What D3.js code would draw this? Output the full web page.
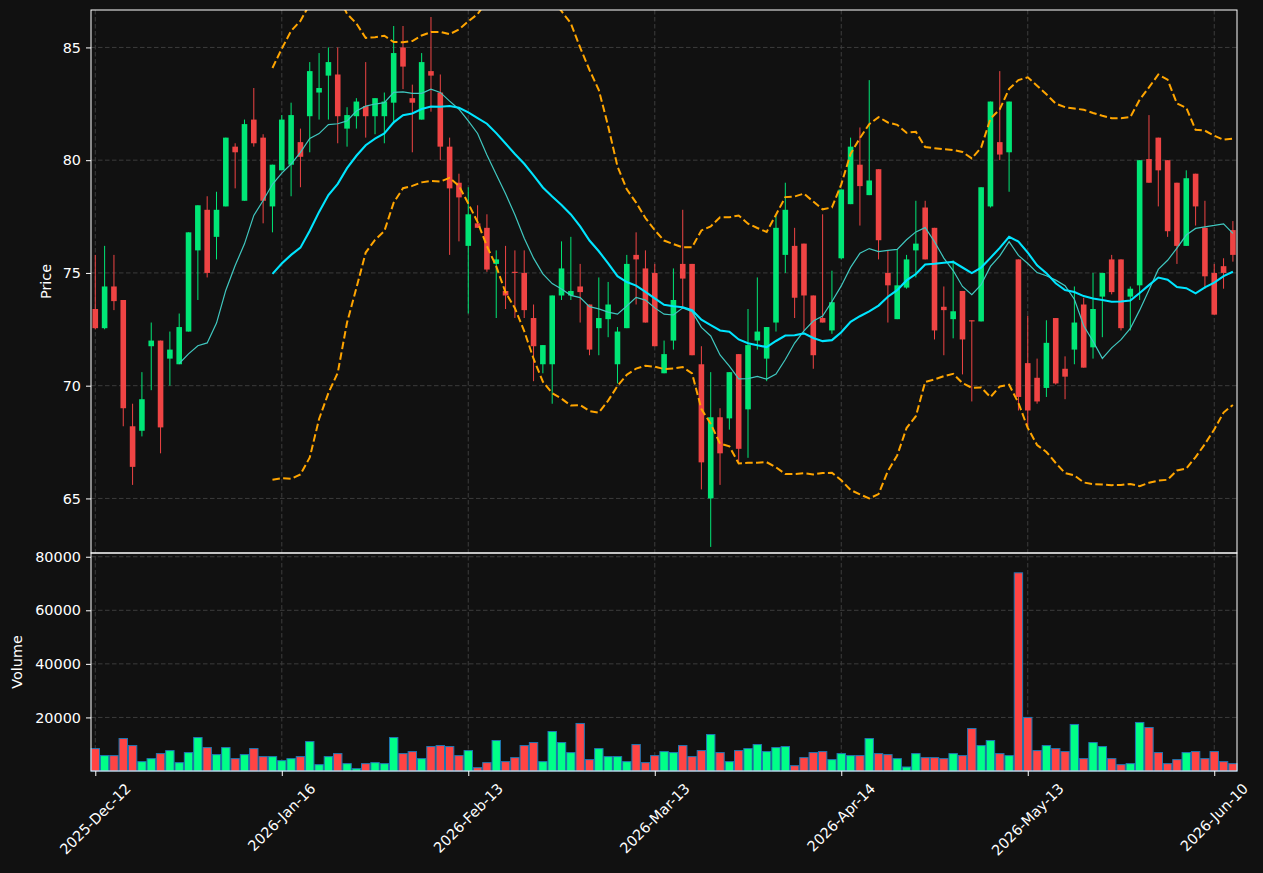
<!DOCTYPE html>
<html>
<head>
<meta charset="utf-8">
<script src="https://cdn.jsdelivr.net/npm/d3@7/dist/d3.min.js"></script>
<style>
  body { margin: 0; background: #111111; }
  svg { display: block; }
</style>
</head>
<body>
<div id="Chart"></div>
<script>
// Candlestick chart with 10/20 moving averages, Bollinger bands
// and a volume panel underneath

//////////////////////////////////////////////////////////////////////////
// data, one entry per trading day

var tickIndex  = [0, 20, 40, 60, 80, 100, 120];
var tickLabels = ["2025-Dec-12", "2026-Jan-16", "2026-Feb-13", "2026-Mar-13",
                  "2026-Apr-14", "2026-May-13", "2026-Jun-10"];

var opens = [73.4, 72.55, 74.4, 73.8, 68.2, 68.0, 71.75, 72.0, 71.2, 70.95,
             72.4, 76.0, 77.8, 76.6, 77.95, 80.6, 78.2, 81.8, 81.0, 77.95,
             79.55, 79.8, 80.8, 81.95, 83.0, 83.75, 83.8, 81.4, 81.95, 82.4,
             81.95, 81.95, 82.55, 85.0, 82.75, 81.8, 83.95, 83.0, 80.6, 79.0,
             76.2, 77.2, 77.0, 75.4, 74.2, 75.05, 75.0, 73.0, 70.95, 70.95,
             74.0, 74.0, 74.4, 73.6, 72.55, 72.95, 70.95, 72.55, 75.8, 75.2,
             75.0, 70.55, 72.0, 75.4, 75.4, 70.95, 65.0, 68.6, 68.55, 71.4,
             68.95, 72.0, 71.2, 72.8, 75.8, 76.2, 76.3, 74.0, 73.0, 72.45,
             75.65, 78.05, 79.8, 78.45, 79.6, 75.0, 72.95, 74.35, 76.0, 77.9,
             77.0, 73.5, 72.95, 74.2, 72.9, 72.85, 77.95, 80.8, 80.35, 75.6,
             71.0, 70.35, 69.9, 73.0, 70.75, 71.6, 73.6, 71.7, 73.95, 75.6,
             75.6, 73.95, 74.45, 80.05, 81.0, 80.0, 79.0, 76.2, 79.4, 77.0,
             75.0, 75.3, 76.9];

var highs = [75.8, 76.2, 75.8, 73.8, 69.2, 70.6, 72.8, 72.0, 72.4, 73.2,
             76.8, 78.0, 78.4, 78.6, 81.0, 80.75, 81.8, 83.2, 81.15, 79.8,
             82.0, 82.55, 81.4, 84.35, 84.75, 85.0, 85.0, 82.35, 82.75, 84.35,
             82.75, 83.0, 85.95, 85.95, 83.35, 84.75, 86.35, 83.8, 81.0, 79.4,
             78.8, 78.0, 77.6, 76.0, 76.2, 76.0, 76.0, 73.6, 71.8, 74.0,
             76.4, 76.6, 75.4, 73.6, 74.8, 74.6, 72.6, 75.8, 76.8, 76.0,
             75.4, 72.0, 75.2, 77.8, 75.4, 71.75, 70.6, 69.0, 70.6, 71.4,
             73.4, 74.8, 72.6, 77.55, 79.0, 77.0, 76.3, 74.0, 77.6, 75.1,
             78.7, 81.0, 81.45, 83.55, 79.6, 76.0, 76.05, 75.8, 78.2, 78.2,
             77.0, 74.4, 75.55, 74.2, 72.9, 78.8, 82.6, 83.95, 82.6, 75.6,
             73.1, 71.2, 72.9, 73.0, 71.3, 74.4, 73.9, 75.0, 75.0, 75.8,
             75.6, 74.4, 80.0, 82.0, 81.0, 80.0, 79.0, 79.55, 79.4, 78.2,
             75.4, 75.65, 77.3];

var lows = [72.5, 72.5, 73.35, 68.2, 65.6, 67.75, 69.8, 67.0, 70.0, 70.95,
            72.4, 73.8, 74.8, 75.6, 77.95, 78.75, 78.2, 80.6, 77.2, 76.8,
            79.55, 78.4, 78.8, 80.35, 81.8, 81.8, 80.75, 80.6, 81.4, 81.0,
            81.15, 80.75, 81.6, 83.15, 80.35, 81.8, 82.15, 80.0, 75.8, 76.4,
            73.2, 77.0, 75.05, 73.0, 73.4, 73.0, 73.0, 70.2, 70.55, 69.2,
            73.8, 73.8, 72.8, 71.35, 71.35, 72.15, 70.1, 72.55, 73.6, 72.8,
            71.75, 70.55, 71.6, 73.4, 71.35, 65.4, 62.85, 65.6, 68.05, 66.6,
            66.8, 71.6, 70.2, 72.4, 75.0, 73.0, 72.45, 70.75, 72.8, 72.3,
            75.6, 78.05, 77.1, 78.45, 75.6, 72.8, 72.95, 74.3, 74.8, 75.6,
            72.05, 71.35, 72.1, 70.5, 69.3, 72.85, 77.9, 80.0, 78.6, 68.9,
            68.15, 69.2, 69.5, 70.05, 69.4, 70.95, 70.8, 71.2, 72.15, 74.05,
            72.45, 72.45, 73.8, 79.0, 77.95, 76.6, 75.4, 76.2, 77.1, 74.3,
            73.15, 74.3, 75.5];

var closes = [72.55, 74.4, 73.75, 69.0, 66.4, 69.4, 72.0, 68.15, 71.6, 72.6,
              76.8, 78.0, 75.0, 77.8, 81.0, 80.35, 81.6, 80.75, 78.2, 79.8,
              81.8, 82.0, 80.15, 83.95, 83.2, 84.35, 81.95, 82.0, 82.6, 81.95,
              82.75, 82.6, 84.75, 84.15, 82.55, 84.35, 83.75, 80.6, 78.75, 78.35,
              77.6, 77.0, 75.15, 75.6, 74.0, 75.0, 73.35, 71.75, 71.8, 74.0,
              75.2, 74.2, 74.15, 71.6, 73.0, 73.6, 72.4, 75.4, 75.6, 72.8,
              71.75, 71.4, 73.8, 74.75, 71.35, 66.6, 68.6, 67.0, 70.6, 67.2,
              71.8, 72.4, 72.6, 77.0, 77.8, 73.9, 74.0, 71.35, 72.8, 73.7,
              78.7, 80.6, 78.85, 79.1, 76.45, 74.45, 74.45, 75.6, 76.3, 75.6,
              72.45, 73.35, 73.3, 72.05, 72.85, 78.8, 82.6, 80.25, 82.6, 69.5,
              68.9, 69.3, 71.9, 70.1, 70.4, 72.8, 70.8, 73.4, 75.0, 74.15,
              72.55, 74.3, 80.0, 79.0, 79.55, 76.85, 76.2, 79.2, 77.95, 74.85,
              73.15, 75.0, 75.8];

var volumes = [8375, 5750, 5750, 12125, 9500, 3500, 4625, 6500, 7625, 3125,
               6875, 12500, 8750, 6125, 8750, 4625, 6125, 8375, 5375, 5375,
               3875, 4625, 5375, 11000, 2375, 5375, 6500, 2750, 875, 2750,
               3125, 2750, 12500, 6500, 7250, 4625, 9125, 9500, 9125, 5750,
               7625, 1250, 3125, 11375, 3500, 5000, 9500, 10625, 3500, 14750,
               10625, 6875, 17750, 4250, 8375, 5375, 5375, 3500, 9875, 3125,
               5750, 7250, 6875, 9500, 5375, 7625, 13625, 6875, 3500, 7625,
               8375, 9875, 7250, 8750, 9125, 2000, 5000, 6875, 7250, 4250,
               6500, 5750, 5750, 12125, 6500, 6125, 4625, 1500, 6500, 5000,
               5000, 4625, 6500, 5750, 15875, 9500, 11375, 6500, 5750, 74000,
               20000, 7625, 9500, 8375, 7250, 17375, 4625, 10625, 9125, 4625,
               2375, 2750, 18125, 16250, 6875, 2750, 4250, 6875, 7250, 4625,
               7250, 3500, 2750];

var priceTicks  = [65, 70, 75, 80, 85];
var volumeTicks = [20000, 40000, 60000, 80000];

//////////////////////////////////////////////////////////////////////////
// global "constants"

var Width = 1263;
var Height = 873;
var Left = 91;            // left edge of both panels
var Right = 1237;         // right edge of both panels
var PriceTop = 10;
var PriceBottom = 553;
var VolTop = 553;
var VolBottom = 771;

var BgColor = "#111111";
var GridColor = "#3c3c3c";
var TextColor = "#ffffff";
var UpColor = "#00e676";
var DownColor = "#ef4444";
var VolUpColor = "#00ff88";
var VolDownColor = "#ff4444";
var VolEdgeColor = "#1f77b4";
var FontFamily = "DejaVu Sans, Liberation Sans, sans-serif";
var FontSize = "14.4px";

//////////////////////////////////////////////////////////////////////////
// functions start here

function initialize () {

    var svg = d3.select("#Chart")
        .append("svg")
        .attr("width", Width)
        .attr("height", Height)
        .style("background", BgColor);

    // one x scale for both panels, indexed by trading day
    var xScale = d3.scaleLinear()
        .domain([-0.46, 122.44])
        .range([Left, Right]);

    var priceScale = d3.scaleLinear()
        .domain([62.58, 86.66])
        .range([PriceBottom, PriceTop]);

    var volumeScale = d3.scaleLinear()
        .domain([0, 81400])
        .range([VolBottom, VolTop]);

    makeGrid (svg, xScale, priceScale, volumeScale);
    makeCandles (svg, xScale, priceScale);
    makeIndicators (svg, xScale, priceScale);
    makeVolumeBars (svg, xScale, volumeScale);
    makeAxes (svg, xScale, priceScale, volumeScale);

} // end initialize

// dashed grid lines in both panels
function makeGrid (svg, xScale, priceScale, volumeScale) {

    var grid = svg.append("g").attr("class", "grid")
        .attr("stroke", GridColor)
        .attr("stroke-width", 1)
        .attr("stroke-dasharray", "4.5,2.5");

    grid.selectAll("line.py")
        .data(priceTicks)
        .enter().append("line")
        .attr("class", "py")
        .attr("x1", Left).attr("x2", Right)
        .attr("y1", function(d) { return priceScale(d); })
        .attr("y2", function(d) { return priceScale(d); });

    grid.selectAll("line.vy")
        .data(volumeTicks)
        .enter().append("line")
        .attr("class", "vy")
        .attr("x1", Left).attr("x2", Right)
        .attr("y1", function(d) { return volumeScale(d); })
        .attr("y2", function(d) { return volumeScale(d); });

    // vertical lines cross both panels
    grid.selectAll("line.gx")
        .data(tickIndex)
        .enter().append("line")
        .attr("class", "gx")
        .attr("x1", function(d) { return xScale(d); })
        .attr("x2", function(d) { return xScale(d); })
        .attr("y1", PriceTop).attr("y2", VolBottom);

} // end makeGrid

// wicks and bodies
function makeCandles (svg, xScale, priceScale) {

    var step = xScale(1) - xScale(0);
    var bodyWidth = step * 0.6;

    var candles = svg.append("g").attr("class", "candles")
        .selectAll("g")
        .data(d3.range(closes.length))
        .enter().append("g");

    candles.append("line")
        .attr("x1", function(i) { return xScale(i); })
        .attr("x2", function(i) { return xScale(i); })
        .attr("y1", function(i) { return priceScale(highs[i]); })
        .attr("y2", function(i) { return priceScale(lows[i]); })
        .attr("stroke", function(i) { return closes[i] >= opens[i] ? UpColor : DownColor; })
        .attr("stroke-width", 1);

    candles.append("rect")
        .attr("x", function(i) { return xScale(i) - bodyWidth / 2; })
        .attr("y", function(i) { return priceScale(Math.max(opens[i], closes[i])); })
        .attr("width", bodyWidth)
        .attr("height", function(i) {
            return Math.max(1, Math.abs(priceScale(opens[i]) - priceScale(closes[i])));
        })
        .attr("fill", function(i) { return closes[i] >= opens[i] ? UpColor : DownColor; });

} // end makeCandles

// rolling mean over n closes, null until the window is full
function rollingMean (values, n) {
    return values.map(function(v, i) {
        if (i < n - 1) return null;
        return d3.mean(values.slice(i - n + 1, i + 1));
    });
} // end rollingMean

// rolling population standard deviation
function rollingStd (values, n) {
    return values.map(function(v, i) {
        if (i < n - 1) return null;
        var win = values.slice(i - n + 1, i + 1);
        var m = d3.mean(win);
        return Math.sqrt(d3.mean(win, function(x) { return (x - m) * (x - m); }));
    });
} // end rollingStd

// moving averages and bollinger bands
function makeIndicators (svg, xScale, priceScale) {

    svg.append("clipPath").attr("id", "priceClip")
        .append("rect")
        .attr("x", Left).attr("y", PriceTop)
        .attr("width", Right - Left).attr("height", PriceBottom - PriceTop);

    var ma10 = rollingMean(closes, 10);
    var ma20 = rollingMean(closes, 20);
    var sd20 = rollingStd(closes, 20);
    var upper = ma20.map(function(m, i) { return m == null ? null : m + 2 * sd20[i]; });
    var lower = ma20.map(function(m, i) { return m == null ? null : m - 2 * sd20[i]; });

    var line = d3.line()
        .defined(function(d) { return d != null; })
        .x(function(d, i) { return xScale(i); })
        .y(function(d) { return priceScale(d); });

    var g = svg.append("g").attr("clip-path", "url(#priceClip)")
        .attr("fill", "none");

    g.append("path").attr("d", line(upper))
        .attr("stroke", "#ffa500").attr("stroke-width", 2)
        .attr("stroke-dasharray", "7.5,3.3");
    g.append("path").attr("d", line(lower))
        .attr("stroke", "#ffa500").attr("stroke-width", 2)
        .attr("stroke-dasharray", "7.5,3.3");
    g.append("path").attr("d", line(ma10))
        .attr("stroke", "#40c8c0").attr("stroke-width", 1.2);
    g.append("path").attr("d", line(ma20))
        .attr("stroke", "#00e5ff").attr("stroke-width", 2.1);

} // end makeIndicators

// volume bars with blue edges
function makeVolumeBars (svg, xScale, volumeScale) {

    var step = xScale(1) - xScale(0);
    var barWidth = step * 0.9;

    svg.append("g").attr("class", "volume")
        .selectAll("rect")
        .data(volumes)
        .enter().append("rect")
        .attr("x", function(d, i) { return xScale(i) - barWidth / 2; })
        .attr("y", function(d) { return volumeScale(d); })
        .attr("width", barWidth)
        .attr("height", function(d) { return VolBottom - volumeScale(d); })
        .attr("fill", function(d, i) { return closes[i] >= opens[i] ? VolUpColor : VolDownColor; })
        .attr("stroke", VolEdgeColor)
        .attr("stroke-width", 1);

} // end makeVolumeBars

// axes, frames and labels
function makeAxes (svg, xScale, priceScale, volumeScale) {

    var priceAxis = d3.axisLeft(priceScale)
        .tickValues(priceTicks)
        .tickSize(5).tickPadding(5);

    var volumeAxis = d3.axisLeft(volumeScale)
        .tickValues(volumeTicks)
        .tickFormat(d3.format("d"))
        .tickSize(5).tickPadding(5);

    var dateAxis = d3.axisBottom(xScale)
        .tickValues(tickIndex)
        .tickFormat("")
        .tickSize(5);

    var pa = svg.append("g")
        .attr("transform", "translate(" + Left + ",0)")
        .call(priceAxis);
    var va = svg.append("g")
        .attr("transform", "translate(" + Left + ",0)")
        .call(volumeAxis);
    var da = svg.append("g")
        .attr("transform", "translate(0," + VolBottom + ")")
        .call(dateAxis);

    [pa, va, da].forEach(function(a) {
        a.select(".domain").remove();
        a.selectAll(".tick line").attr("stroke", TextColor);
        a.selectAll("text")
            .attr("fill", TextColor)
            .style("font-family", FontFamily)
            .style("font-size", FontSize);
    });

    // rotated date labels, bounding box centred under each tick
    var labels = svg.append("g").attr("class", "dates")
        .selectAll("text")
        .data(tickIndex)
        .enter().append("text")
        .attr("text-anchor", "middle")
        .attr("dominant-baseline", "central")
        .attr("fill", TextColor)
        .style("font-family", FontFamily)
        .style("font-size", FontSize)
        .text(function(d, i) { return tickLabels[i]; });

    labels.each(function(d) {
        var len = this.getComputedTextLength();
        var half = (len + 14) * Math.SQRT1_2 / 2;
        var cx = xScale(d);
        var cy = VolBottom + 10 + half;
        d3.select(this)
            .attr("x", cx).attr("y", cy)
            .attr("transform", "rotate(-45," + cx + "," + cy + ")");
    });

    // panel frames
    svg.append("rect")
        .attr("x", Left).attr("y", PriceTop)
        .attr("width", Right - Left).attr("height", PriceBottom - PriceTop)
        .attr("fill", "none").attr("stroke", TextColor).attr("stroke-width", 1);
    svg.append("rect")
        .attr("x", Left).attr("y", VolTop)
        .attr("width", Right - Left).attr("height", VolBottom - VolTop)
        .attr("fill", "none").attr("stroke", TextColor).attr("stroke-width", 1);

    // axis titles
    svg.append("text")
        .attr("transform", "translate(46," + (PriceTop + PriceBottom) / 2 + ") rotate(-90)")
        .attr("text-anchor", "middle")
        .attr("dominant-baseline", "central")
        .attr("fill", TextColor)
        .style("font-family", FontFamily)
        .style("font-size", FontSize)
        .text("Price");

    svg.append("text")
        .attr("transform", "translate(17," + (VolTop + VolBottom) / 2 + ") rotate(-90)")
        .attr("text-anchor", "middle")
        .attr("dominant-baseline", "central")
        .attr("fill", TextColor)
        .style("font-family", FontFamily)
        .style("font-size", FontSize)
        .text("Volume");

} // end makeAxes

//////////////////////////////////////////////////////////////////////////
initialize();
</script>
</body>
</html>
